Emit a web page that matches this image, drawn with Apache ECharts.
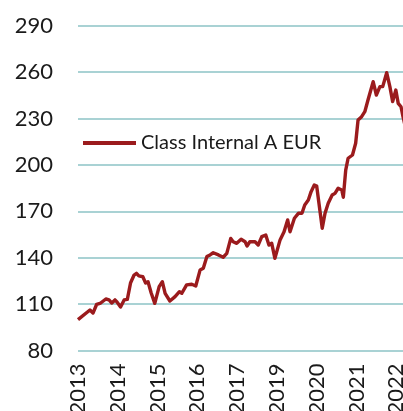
<!DOCTYPE html>
<html>
<head>
<meta charset="utf-8">
<script src="https://cdn.jsdelivr.net/npm/echarts@6/dist/echarts.min.js"></script>
<style>
html,body{margin:0;padding:0;background:#fff;}
#chart{width:403px;height:411px;}
</style>
</head>
<body>
<div id="chart"></div>
<script>
// Tick labels on the x axis (as printed in the reference; one per tick position)
const xTickLabels = ['2013','2014','2015','2016','2017','2019','2020','2021','2022'];
// Position along the x axis, in tick units (0 = first tick "2013")
const xPos = [0,0.30,0.377,0.47,0.57,0.70,0.78,0.85,0.93,0.98,1.07,1.16,1.24,1.32,1.41,1.47,1.53,1.63,1.70,1.76,1.84,1.93,2.04,2.12,2.19,2.31,2.44,2.55,2.61,2.73,2.86,2.96,3.07,3.15,3.24,3.32,3.40,3.53,3.65,3.74,3.84,3.90,3.99,4.10,4.20,4.25,4.32,4.45,4.53,4.62,4.72,4.80,4.87,4.95,5.08,5.18,5.27,5.33,5.44,5.54,5.63,5.70,5.79,5.86,5.94,6.00,6.14,6.21,6.29,6.39,6.46,6.54,6.63,6.67,6.73,6.79,6.90,6.98,7.04,7.13,7.21,7.29,7.42,7.50,7.59,7.66,7.76,7.84,7.91,7.99,8.05,8.12,8.17,8.22];
// Index values of the fund
const seriesValues = [100,106.2,104.2,109.9,110.7,113.3,112.7,110.7,112.7,111.4,108.1,112.7,113.1,123.6,128.8,129.9,128.2,127.7,123.6,124.5,117.2,110.5,121.3,124.5,117.0,112.0,114.8,118.0,117.0,122.4,122.8,121.7,132.1,133.2,140.7,141.8,143.2,141.8,140.3,142.8,152.5,150.3,149.3,151.9,150.3,147.6,150.3,150.3,148.2,153.6,154.7,148.2,149.3,139.6,151.5,156.8,164.4,156.8,165.5,168.7,168.7,174.1,177.3,182.7,187.0,186.3,159.0,168.7,175.2,180.5,181.6,184.9,183.8,179.1,196.6,204.3,206.4,214.0,229.0,231.2,234.4,242.0,253.8,245.2,250.6,250.6,259.6,250.6,240.9,248.4,239.8,237.6,231.2,225.5];
const seriesName = 'Class Internal A EUR';
const yTicks = {min: 80, max: 290, interval: 30};

const chart = echarts.init(document.getElementById('chart'), null, {renderer: 'canvas'});
const FONT = 'Lato';
chart.setOption({
  animation: false,
  backgroundColor: '#ffffff',
  grid: {left: 78, top: 25.7, bottom: 60.5, right: 0, containLabel: false, outerBoundsMode: 'none'},
  legend: {
    show: true,
    left: 78,
    top: 128,
    icon: 'rect',
    itemWidth: 53,
    itemHeight: 4,
    itemGap: 10,
    textStyle: {fontFamily: FONT, fontSize: 20, color: '#1a1a1a'},
    data: [seriesName]
  },
  xAxis: {
    type: 'value',
    min: 0,
    max: 8.17,
    interval: 1,
    axisLine: {show: false},
    axisTick: {show: false},
    splitLine: {show: false},
    axisLabel: {
      rotate: 90,
      margin: 13,
      fontFamily: FONT,
      fontSize: 22,
      color: '#1a1a1a',
      showMaxLabel: false,
      formatter: function (v) { return Number.isInteger(v) && xTickLabels[v] ? xTickLabels[v] : ''; }
    }
  },
  yAxis: {
    type: 'value',
    min: yTicks.min,
    max: yTicks.max,
    interval: yTicks.interval,
    axisLine: {show: false},
    axisTick: {show: false},
    splitLine: {show: true, lineStyle: {color: '#a9d2d4', width: 2}},
    axisLabel: {margin: 25, fontFamily: FONT, fontSize: 22, color: '#1a1a1a'}
  },
  series: [{
    name: seriesName,
    type: 'line',
    data: xPos.map((x, i) => [x, seriesValues[i]]),
    showSymbol: false,
    symbol: 'none',
    clip: false,
    lineStyle: {color: '#9b1b1d', width: 3.4, join: 'round'},
    itemStyle: {color: '#9b1b1d'}
  }]
});
</script>
</body>
</html>
